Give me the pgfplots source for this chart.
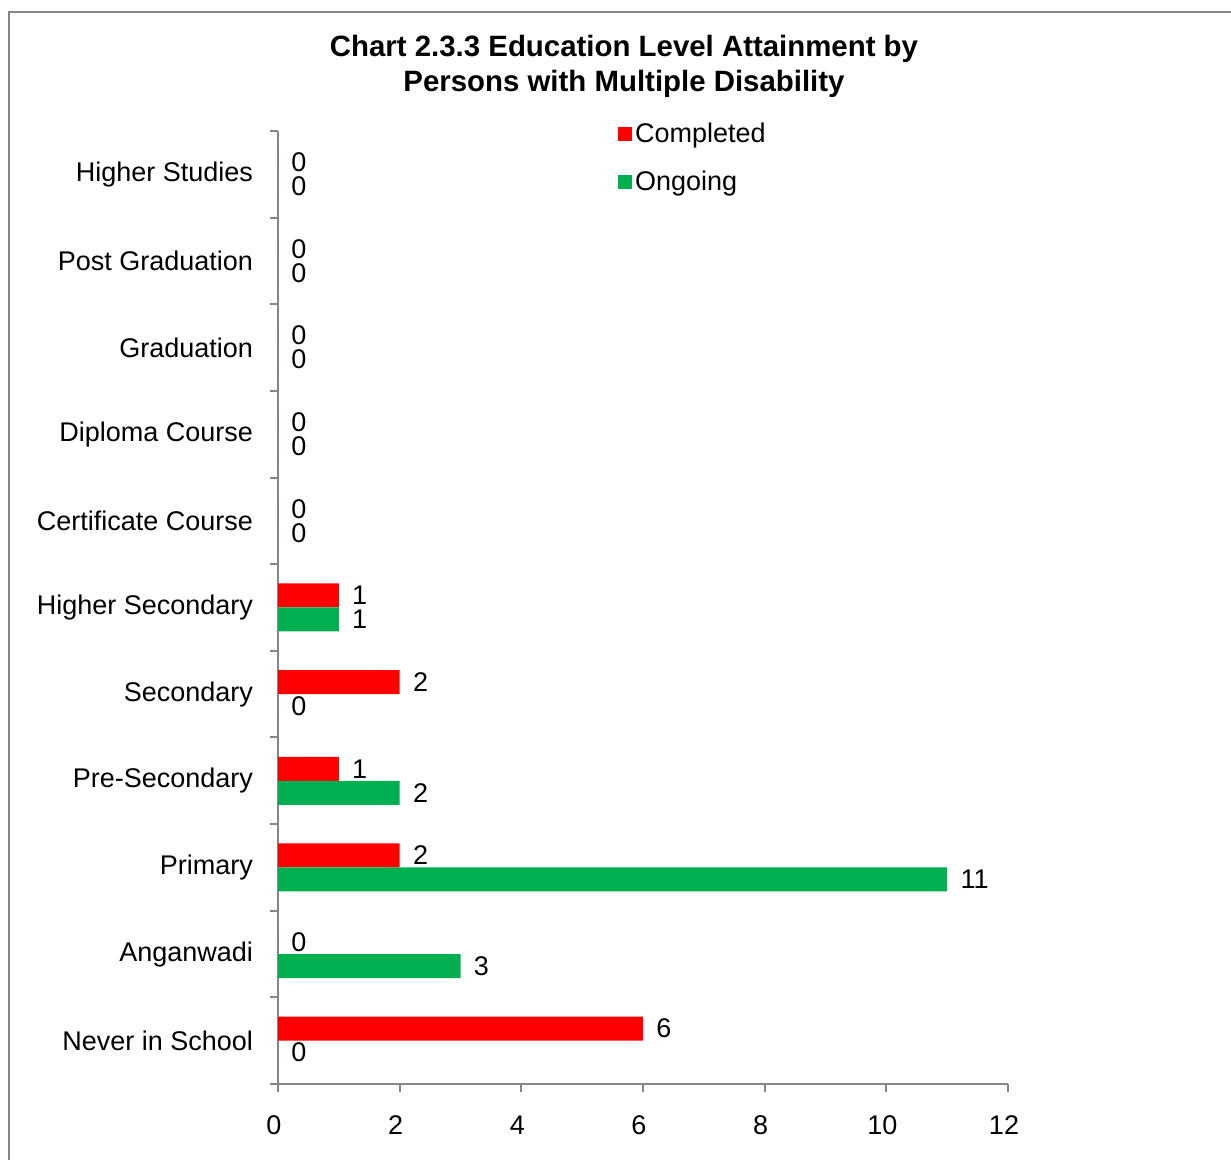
\documentclass[border=0pt]{standalone}
\usepackage{pgfplots}
\pgfplotsset{compat=1.18}
\usepackage{fontspec}
\setmainfont{Liberation Sans}

\definecolor{axisgray}{RGB}{134,134,134}
\definecolor{barred}{RGB}{255,0,0}
\definecolor{bargreen}{RGB}{0,176,80}

\begin{document}
\begin{tikzpicture}[font=\fontsize{13.5}{16}\selectfont]
\useasboundingbox (0,0) rectangle (615.5pt,580pt);
\clip (0,0) rectangle (615.5pt,580pt);
\draw[axisgray, line width=1pt] (4.5pt,-20pt) rectangle (640pt,574pt);

\node[align=center, font=\fontsize{14.7}{17.5}\selectfont\bfseries] at (312pt,547pt)
  {Chart 2.3.3 Education Level Attainment by\\Persons with Multiple Disability};

\begin{axis}[
at={(139pt,38pt)}, anchor=south west,
scale only axis,
width=365pt, height=476.5pt,
xbar,
bar width=0.277,
xmin=0, xmax=12,
ymin=-0.5, ymax=10.5,
axis lines*=left,
axis line style={axisgray, line width=1pt},
tick align=outside,
major tick length=4pt,
xtick={0,2,4,6,8,10,12},
xtick style={draw=axisgray, line width=1pt},
xticklabel style={yshift=-8.5pt, xshift=-2pt},
/pgf/number format/assume math mode=true,
ytick={0,1,2,3,4,5,6,7,8,9,10},
yticklabels={Never in School, Anganwadi, Primary, Pre-Secondary, Secondary, Higher Secondary, Certificate Course, Diploma Course, Graduation, Post Graduation, Higher Studies},
ytick style={draw=none},
yticklabel style={xshift=-5pt},
extra y ticks={-0.5,0.5,1.5,2.5,3.5,4.5,5.5,6.5,7.5,8.5,9.5,10.5},
extra y tick labels={},
extra y tick style={ytick style={draw=axisgray, line width=1pt}},
nodes near coords,
nodes near coords style={anchor=west, inner sep=0pt, xshift=6.5pt, black},
legend cell align=left,
legend style={draw=none, fill=none, at={(0.457,1.016)}, anchor=north west,
  row sep=9.5pt, nodes={inner sep=1.5pt}},
legend image code/.code={\draw[#1,draw=none] (0pt,-3.5pt) rectangle (7pt,3.5pt);},
]
\addplot[fill=barred, draw=none, bar shift=0.1385] coordinates {
(6,0) (0,1) (2,2) (1,3) (2,4) (1,5) (0,6) (0,7) (0,8) (0,9) (0,10)
};
\addlegendentry{Completed}
\addplot[fill=bargreen, draw=none, bar shift=-0.1385] coordinates {
(0,0) (3,1) (11,2) (2,3) (0,4) (1,5) (0,6) (0,7) (0,8) (0,9) (0,10)
};
\addlegendentry{Ongoing}
\end{axis}
\end{tikzpicture}
\end{document}
